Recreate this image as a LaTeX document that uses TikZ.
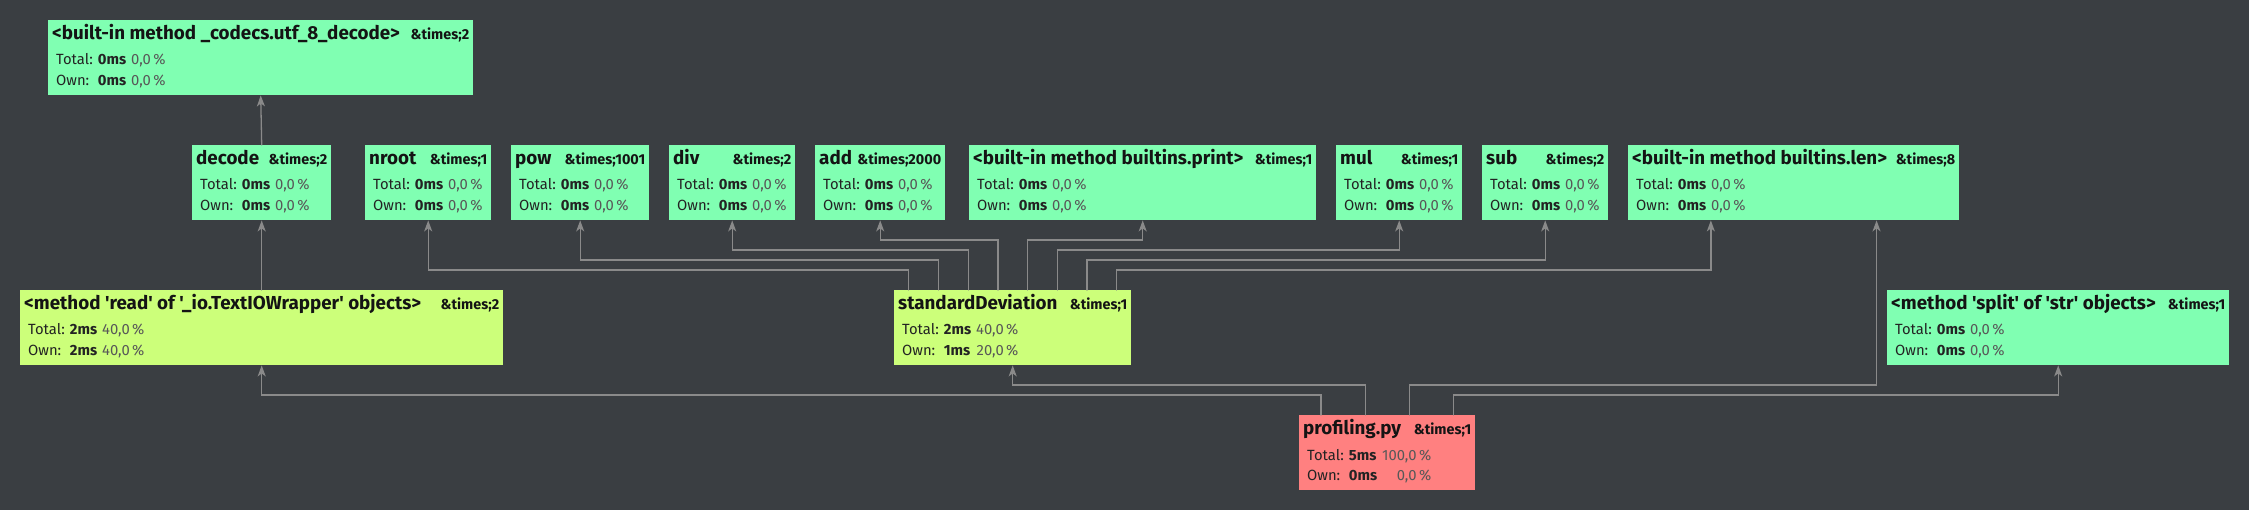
\documentclass[tikz,border=0pt]{standalone}
\usepackage{fontspec}
\usetikzlibrary{arrows.meta,calc}
\newfontfamily\uifont{Fira Sans}[Ligatures=TeXOff]

\begin{document}
\begin{tikzpicture}[
    x=1pt, y=-1pt,
    line cap=round,
    every node/.style={font=\uifont},
    callbox/.style={anchor=north west, inner sep=0pt, minimum height=75pt},
    titletext/.style={anchor=base west, inner sep=0pt, text=titleink,
        font=\uifont\bfseries\fontsize{18.8}{21}\selectfont},
    counttext/.style={anchor=base east, inner sep=0pt, text=titleink,
        font=\uifont\bfseries\fontsize{14.4}{17}\selectfont},
    stattext/.style={anchor=base west, inner sep=0pt, text=statink,
        font=\uifont\fontsize{14.8}{15}\selectfont},
    link/.style={draw=linkgray, line width=1.3pt,
        -{Stealth[length=11pt,width=8pt,inset=3pt]}},
]

\definecolor{canvas}{RGB}{58,62,66}
\definecolor{cold}{RGB}{128,255,178}
\definecolor{warm}{RGB}{204,255,122}
\definecolor{hot}{RGB}{255,128,128}
\definecolor{linkgray}{RGB}{138,138,138}
\definecolor{titleink}{RGB}{20,20,20}
\definecolor{statink}{RGB}{35,35,35}
\definecolor{pctgray}{RGB}{88,88,88}

\fill[canvas] (0,0) rectangle (2249,510);
\useasboundingbox (0,0) rectangle (2249,510);

% ---------- macro: one profiler box ----------
% #1 = node name, #2/#3 = top-left corner, #4 = width, #5 = fill
% #6 = function name, #7 = call count
% #8/#9 = {time}{percent} for the Total and Own rows
\newcommand{\pct}[1]{{\color{pctgray}#1\,\%}}
\newcommand{\statrow}[2]{\textbf{#1} & \pct{#2}}
\newcommand{\callbox}[9]{%
    \node[callbox, fill=#5, minimum width=#4pt] (#1) at (#2,#3) {};
    \node[titletext] at ($(#1.north west)+(4,19.5)$) {#6};
    \node[counttext] at ($(#1.north east)+(-4,19.5)$) {\&times;#7};
    \node[stattext] at ($(#1.north west)+(8,45)$) {%
        \def\arraystretch{1.4}%
        \begin{tabular}[t]{@{}l@{\hspace{5pt}}l@{\hspace{5pt}}r@{}}
            Total: & \statrow#8 \\
            Own:   & \statrow#9
        \end{tabular}};
}

\callbox{utf8}{48}{20}{425}{cold}{<built-in method \_codecs.utf\_8\_decode>}{2}{{0ms}{0,0}}{{0ms}{0,0}}

\callbox{decode}{192}{145}{139}{cold}{decode}{2}{{0ms}{0,0}}{{0ms}{0,0}}
\callbox{nroot}{365}{145}{126}{cold}{nroot}{1}{{0ms}{0,0}}{{0ms}{0,0}}
\callbox{pow}{511}{145}{138}{cold}{pow}{1001}{{0ms}{0,0}}{{0ms}{0,0}}
\callbox{div}{669}{145}{126}{cold}{div}{2}{{0ms}{0,0}}{{0ms}{0,0}}
\callbox{add}{815}{145}{130}{cold}{add}{2000}{{0ms}{0,0}}{{0ms}{0,0}}
\callbox{print}{969}{145}{347}{cold}{<built-in method builtins.print>}{1}{{0ms}{0,0}}{{0ms}{0,0}}
\callbox{mul}{1336}{145}{126}{cold}{mul}{1}{{0ms}{0,0}}{{0ms}{0,0}}
\callbox{sub}{1482}{145}{126}{cold}{sub}{2}{{0ms}{0,0}}{{0ms}{0,0}}
\callbox{len}{1628}{145}{331}{cold}{<built-in method builtins.len>}{8}{{0ms}{0,0}}{{0ms}{0,0}}

\callbox{read}{20}{290}{483}{warm}{<method 'read' of '\_io.TextIOWrapper' objects>}{2}{{2ms}{40,0}}{{2ms}{40,0}}
\callbox{stddev}{894}{290}{237}{warm}{standardDeviation}{1}{{2ms}{40,0}}{{1ms}{20,0}}
\callbox{split}{1887}{290}{342}{cold}{<method 'split' of 'str' objects>}{1}{{0ms}{0,0}}{{0ms}{0,0}}

\callbox{main}{1299}{415}{176}{hot}{profiling.py}{1}{{5ms}{100,0}}{{0ms}{0,0}}

% ---------- call edges ----------
\draw[link] (decode.north) -- (utf8.south);
\draw[link] (read.north) -- (decode.south);

% out of standardDeviation: evenly spread over its top edge
\foreach \i/\callee/\f/\rise in {0/nroot/0.5/20, 1/pow/0.5/30, 2/div/0.5/40, 3/add/0.5/50,
                                 4/print/0.5/50, 5/mul/0.5/40, 6/sub/0.5/30, 7/len/0.25/20}{
    \draw[link] ($(stddev.north west)!{(\i+0.5)/8}!(stddev.north east)$)
        -- ++(0,-\rise) -| ($(\callee.south west)!\f!(\callee.south east)$);
}

% out of profiling.py
\foreach \i/\callee/\f/\rise in {0/read/0.5/20, 1/stddev/0.5/30, 2/len/0.75/30, 3/split/0.5/20}{
    \draw[link] ($(main.north west)!{(\i+0.5)/4}!(main.north east)$)
        -- ++(0,-\rise) -| ($(\callee.south west)!\f!(\callee.south east)$);
}

\end{tikzpicture}
\end{document}
